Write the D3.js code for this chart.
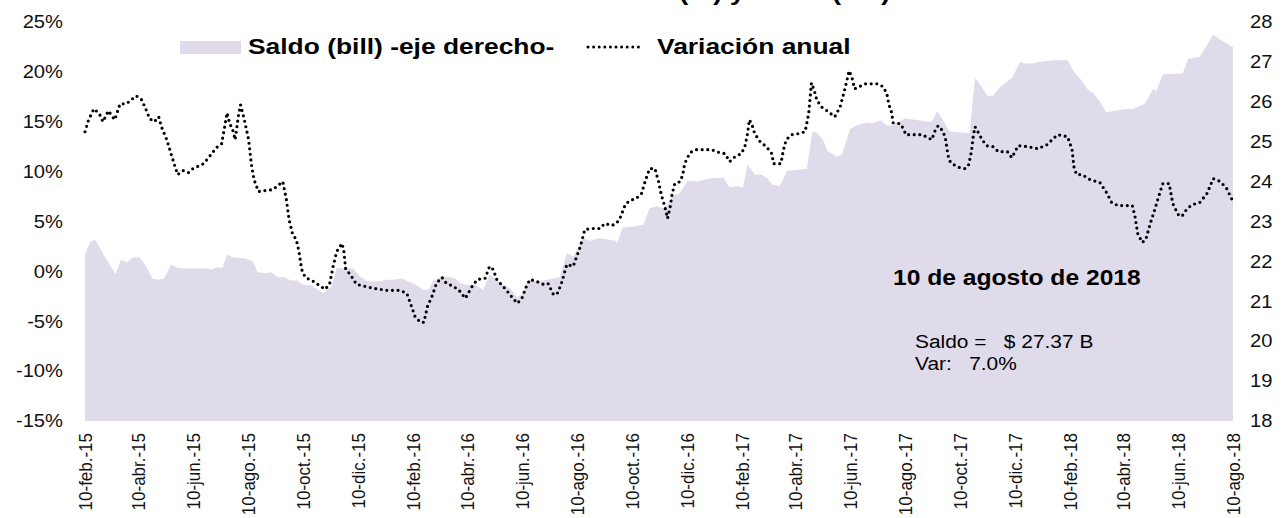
<!DOCTYPE html>
<html>
<head>
<meta charset="utf-8">
<script src="https://cdn.jsdelivr.net/npm/d3@7"></script>
<style>
  body { margin: 0; background: #fff; }
  svg { display: block; font-family: "Liberation Sans", Arial, sans-serif; }
</style>
</head>
<body>
<svg id="chart" width="1287" height="518"></svg>
<script>
// saldo semanal (billones) - eje derecho
const saldoFechas = [
  "2015-02-10","2015-02-16","2015-02-21","2015-02-27","2015-03-06","2015-03-16","2015-03-22","2015-03-29",
  "2015-04-04","2015-04-12","2015-04-19","2015-04-26","2015-05-02","2015-05-09","2015-05-17","2015-05-23",
  "2015-06-01","2015-06-26","2015-07-01","2015-07-06","2015-07-13","2015-07-18","2015-07-25","2015-08-07",
  "2015-08-16","2015-08-21","2015-08-29","2015-09-05","2015-09-13","2015-09-20","2015-09-27","2015-10-04",
  "2015-10-10","2015-10-19","2015-11-02","2015-11-11","2015-11-17","2015-11-24","2015-12-05","2015-12-13",
  "2015-12-21","2016-01-04","2016-01-12","2016-01-19","2016-01-29","2016-02-04","2016-02-14","2016-02-21",
  "2016-02-27","2016-03-03","2016-03-13","2016-03-20","2016-03-28","2016-04-02","2016-04-10","2016-04-17",
  "2016-04-22","2016-04-28","2016-05-05","2016-05-13","2016-05-20","2016-05-28","2016-06-05","2016-06-10",
  "2016-06-17","2016-06-27","2016-07-08","2016-07-22","2016-07-30","2016-08-06","2016-08-11","2016-08-17",
  "2016-08-25","2016-09-03","2016-09-14","2016-09-22","2016-09-24","2016-09-30","2016-10-10","2016-10-23",
  "2016-10-25","2016-10-30","2016-11-07","2016-11-14","2016-11-19","2016-11-25","2016-12-03","2016-12-11",
  "2016-12-22","2016-12-28","2017-01-05","2017-01-20","2017-01-27","2017-02-04","2017-02-11","2017-02-16",
  "2017-02-24","2017-03-04","2017-03-10","2017-03-16","2017-03-24","2017-04-01","2017-04-12","2017-04-23",
  "2017-04-29","2017-05-04","2017-05-11","2017-05-16","2017-05-26","2017-06-01","2017-06-10","2017-06-18",
  "2017-06-29","2017-07-05","2017-07-14","2017-07-21","2017-07-27","2017-08-10","2017-08-21","2017-09-04",
  "2017-09-09","2017-09-15","2017-09-29","2017-10-10","2017-10-21","2017-10-27","2017-11-02","2017-11-10",
  "2017-11-16","2017-11-23","2017-12-02","2017-12-08","2017-12-16","2017-12-22","2017-12-30","2018-01-05",
  "2018-01-22","2018-02-07","2018-02-13","2018-02-23","2018-03-02","2018-03-07","2018-03-15","2018-03-22",
  "2018-03-29","2018-04-12","2018-04-21","2018-05-04","2018-05-13","2018-05-17","2018-05-24","2018-06-15",
  "2018-06-21","2018-07-04","2018-07-19","2018-07-28","2018-08-10"
];
const saldoBill = [
  22.17,22.50,22.54,22.33,22.04,21.68,22.04,21.98,
  22.10,22.10,21.88,21.57,21.54,21.57,21.93,21.85,
  21.82,21.82,21.80,21.85,21.84,22.17,22.10,22.08,
  22.00,21.73,21.71,21.73,21.60,21.60,21.52,21.52,
  21.42,21.40,21.21,21.37,21.83,21.83,21.82,21.62,
  21.50,21.50,21.54,21.54,21.57,21.50,21.40,21.29,
  21.29,21.50,21.62,21.62,21.57,21.46,21.40,21.43,
  21.37,21.29,21.67,21.54,21.40,21.33,21.08,21.18,
  21.54,21.50,21.54,21.60,22.21,22.12,22.33,22.58,
  22.52,22.58,22.55,22.52,22.46,22.85,22.87,22.92,
  23.04,23.33,23.38,23.33,23.43,23.65,23.71,24.02,
  24.00,24.04,24.08,24.10,23.85,23.89,23.85,24.43,
  24.18,24.17,24.08,23.92,23.89,24.27,24.29,24.32,
  25.25,25.23,25.04,24.77,24.63,24.67,25.32,25.42,
  25.48,25.46,25.54,25.40,25.42,25.58,25.55,25.50,
  25.50,25.77,25.25,25.23,25.21,26.60,26.42,26.15,
  26.15,26.35,26.50,26.63,27.00,26.96,26.96,27.00,
  27.04,27.04,26.79,26.52,26.29,26.23,26.00,25.73,
  25.77,25.82,25.82,25.96,26.32,26.28,26.69,26.71,
  27.07,27.13,27.68,27.54,27.37
];

// variacion anual (%) - eje izquierdo
const variacionFechas = [
  "2015-02-10","2015-02-14","2015-02-20","2015-02-26","2015-03-02","2015-03-08","2015-03-15","2015-03-21",
  "2015-03-28","2015-04-08","2015-04-14","2015-04-19","2015-04-23","2015-04-28","2015-05-03","2015-05-06",
  "2015-05-12","2015-05-17","2015-05-24","2015-05-30","2015-06-05","2015-06-10","2015-06-22","2015-07-01",
  "2015-07-06","2015-07-12","2015-07-15","2015-07-18","2015-07-21","2015-07-24","2015-07-27","2015-07-31",
  "2015-08-02","2015-08-06","2015-08-11","2015-08-14","2015-08-17","2015-08-22","2015-08-29","2015-09-07",
  "2015-09-18","2015-09-22","2015-09-25","2015-09-29","2015-10-03","2015-10-06","2015-10-09","2015-10-13",
  "2015-10-22","2015-11-04","2015-11-09","2015-11-13","2015-11-17","2015-11-23","2015-11-25","2015-11-27",
  "2015-12-02","2015-12-09","2015-12-28","2016-01-12","2016-01-26","2016-02-03","2016-02-07","2016-02-12",
  "2016-02-18","2016-02-22","2016-02-26","2016-03-02","2016-03-07","2016-03-13","2016-03-18","2016-03-26",
  "2016-04-02","2016-04-08","2016-04-17","2016-04-22","2016-04-30","2016-05-05","2016-05-09","2016-05-13",
  "2016-05-22","2016-05-31","2016-06-05","2016-06-10","2016-06-15","2016-06-19","2016-06-26","2016-07-04",
  "2016-07-09","2016-07-15","2016-07-19","2016-07-24","2016-07-30","2016-08-06","2016-08-10","2016-08-14",
  "2016-08-19","2016-08-27","2016-09-05","2016-09-10","2016-09-18","2016-09-23","2016-09-27","2016-10-03",
  "2016-10-08","2016-10-15","2016-10-21","2016-10-25","2016-10-30","2016-11-05","2016-11-09","2016-11-12",
  "2016-11-16","2016-11-19","2016-11-22","2016-11-24","2016-11-27","2016-12-03","2016-12-06","2016-12-08",
  "2016-12-14","2016-12-21","2017-01-07","2017-01-16","2017-01-22","2017-01-27","2017-02-02","2017-02-09",
  "2017-02-13","2017-02-16","2017-02-18","2017-02-21","2017-02-24","2017-03-02","2017-03-09","2017-03-15",
  "2017-03-17","2017-03-25","2017-03-28","2017-03-31","2017-04-06","2017-04-13","2017-04-21","2017-04-25",
  "2017-04-27","2017-04-28","2017-05-01","2017-05-04","2017-05-09","2017-05-17","2017-05-24","2017-05-30",
  "2017-06-04","2017-06-09","2017-06-12","2017-06-15","2017-06-27","2017-07-11","2017-07-17","2017-07-21",
  "2017-07-23","2017-07-26","2017-07-28","2017-08-05","2017-08-09","2017-08-11","2017-08-29","2017-09-05",
  "2017-09-09","2017-09-12","2017-09-16","2017-09-21","2017-09-24","2017-09-26","2017-09-28","2017-10-01",
  "2017-10-10","2017-10-16","2017-10-20","2017-10-23","2017-10-25","2017-10-27","2017-10-29","2017-11-04",
  "2017-11-09","2017-11-16","2017-11-22","2017-12-02","2017-12-07","2017-12-14","2017-12-25","2018-01-05",
  "2018-01-15","2018-01-22","2018-01-27","2018-02-07","2018-02-12","2018-02-14","2018-02-17","2018-02-23",
  "2018-03-04","2018-03-15","2018-03-23","2018-03-28","2018-04-04","2018-04-20","2018-04-23","2018-04-26",
  "2018-05-01","2018-05-05","2018-05-10","2018-05-15","2018-05-21","2018-05-24","2018-05-31","2018-06-04",
  "2018-06-10","2018-06-14","2018-06-20","2018-06-26","2018-07-04","2018-07-12","2018-07-19","2018-07-27",
  "2018-08-03","2018-08-10"
];
const variacionPct = [
  14.0,15.2,16.3,15.8,15.0,16.1,15.2,16.8,
  16.8,17.6,17.2,16.2,15.3,15.0,15.5,14.5,
  13.2,11.7,9.7,10.1,9.9,10.3,10.8,11.8,
  12.4,12.8,14.3,15.9,14.8,14.3,13.2,15.8,
  16.7,15.3,13.2,10.8,9.2,8.0,8.1,8.2,
  9.0,7.2,5.2,3.7,3.2,2.0,0.2,-0.6,
  -1.0,-1.8,-1.3,0.5,2.0,2.8,2.0,0.2,
  -0.3,-1.3,-1.7,-1.9,-1.9,-2.2,-3.2,-4.5,
  -5.1,-5.1,-3.5,-2.5,-1.2,-0.6,-1.2,-1.5,
  -2.0,-2.7,-1.3,-0.8,-0.7,0.5,0.2,-0.8,
  -1.7,-2.7,-3.2,-2.7,-1.5,-0.8,-1.0,-1.3,
  -1.2,-2.3,-2.3,-1.2,0.7,0.5,1.5,2.5,
  4.2,4.3,4.3,4.8,4.6,4.8,5.3,6.7,
  7.1,7.3,7.8,9.0,10.3,10.3,9.0,7.7,
  6.5,5.3,6.5,7.7,8.8,9.0,9.7,10.8,
  11.9,12.2,12.2,11.9,11.8,11.0,11.5,11.8,
  12.5,13.8,15.2,14.7,13.8,13.0,12.5,11.8,
  10.8,10.8,12.2,13.2,13.7,13.8,14.0,15.8,
  17.8,18.9,18.2,17.2,16.5,16.0,15.5,16.5,
  18.2,20.1,19.5,18.3,18.8,18.8,18.5,17.8,
  16.8,16.0,14.9,14.8,14.2,13.7,13.7,13.4,
  13.2,14.0,14.6,14.1,13.4,12.2,11.2,10.8,
  10.4,10.3,10.7,12.0,13.5,14.5,14.2,13.2,
  12.6,12.5,12.0,12.0,11.4,12.6,12.5,12.3,
  12.7,13.3,13.7,13.5,12.2,10.5,9.7,9.7,
  9.2,8.9,7.8,6.9,6.6,6.6,5.5,3.8,
  2.9,3.2,4.8,6.2,8.0,8.8,8.8,6.8,
  5.7,5.5,6.3,6.7,6.9,7.8,9.3,9.0,
  8.3,7.0
];

const tickFechas = [
  "2015-02-10","2015-04-10","2015-06-10","2015-08-10","2015-10-10","2015-12-10",
  "2016-02-10","2016-04-10","2016-06-10","2016-08-10","2016-10-10","2016-12-10",
  "2017-02-10","2017-04-10","2017-06-10","2017-08-10","2017-10-10","2017-12-10",
  "2018-02-10","2018-04-10","2018-06-10","2018-08-10"
];
const tickEtiquetas = [
  "10-feb.-15","10-abr.-15","10-jun.-15","10-ago.-15","10-oct.-15","10-dic.-15",
  "10-feb.-16","10-abr.-16","10-jun.-16","10-ago.-16","10-oct.-16","10-dic.-16",
  "10-feb.-17","10-abr.-17","10-jun.-17","10-ago.-17","10-oct.-17","10-dic.-17",
  "10-feb.-18","10-abr.-18","10-jun.-18","10-ago.-18"
];
const ticksIzq = [-15, -10, -5, 0, 5, 10, 15, 20, 25];
const ticksDer = [18, 19, 20, 21, 22, 23, 24, 25, 26, 27, 28];

const parse = d3.timeParse("%Y-%m-%d");
const saldo = saldoFechas.map((f, i) => ({ date: parse(f), v: saldoBill[i] }));
const variacion = variacionFechas.map((f, i) => ({ date: parse(f), v: variacionPct[i] }));

const plotLeft = 85, plotRight = 1233, plotTop = 22, plotBottom = 421;
const sx = 1.12; // el texto original se ve estirado en horizontal

const svg = d3.select("#chart");
svg.append("rect").attr("width", 1287).attr("height", 518).attr("fill", "#fff");

const x = d3.scaleTime()
  .domain([parse(tickFechas[0]), parse(tickFechas[tickFechas.length - 1])])
  .range([plotLeft, plotRight]);
const yIzq = d3.scaleLinear().domain([-15, 25]).range([plotBottom, plotTop]);
const yDer = d3.scaleLinear().domain([18, 28]).range([plotBottom, plotTop]);

// area del saldo
svg.append("path")
  .datum(saldo)
  .attr("fill", "#e0dbea")
  .attr("d", d3.area()
    .x(d => x(d.date))
    .y0(yDer(18))
    .y1(d => yDer(d.v)));

// linea punteada de la variacion
svg.append("path")
  .datum(variacion)
  .attr("fill", "none")
  .attr("stroke", "#000")
  .attr("stroke-width", 3.2)
  .attr("stroke-linecap", "round")
  .attr("stroke-dasharray", "0 5.6")
  .attr("d", d3.line()
    .x(d => x(d.date))
    .y(d => yIzq(d.v)));

// ejes
const gIzq = svg.append("g")
  .attr("transform", `translate(${plotLeft},0)`)
  .call(d3.axisLeft(yIzq).tickValues(ticksIzq).tickFormat(d => d + "%").tickSize(0));
gIzq.select(".domain").remove();
gIzq.selectAll("text")
  .attr("x", -22 / sx)
  .attr("transform", `scale(${sx},1)`)
  .attr("font-size", 18).attr("font-family", null).attr("fill", "#111");

const gDer = svg.append("g")
  .attr("transform", `translate(${plotRight},0)`)
  .call(d3.axisRight(yDer).tickValues(ticksDer).tickSize(0));
gDer.select(".domain").remove();
gDer.selectAll("text")
  .attr("x", 17 / sx)
  .attr("transform", `scale(${sx},1)`)
  .attr("font-size", 18).attr("font-family", null).attr("fill", "#111");

const gX = svg.append("g")
  .attr("transform", `translate(0,${plotBottom})`)
  .call(d3.axisBottom(x)
    .tickValues(tickFechas.map(parse))
    .tickFormat((d, i) => tickEtiquetas[i])
    .tickSize(0));
gX.select(".domain").remove();
gX.selectAll("text")
  .attr("transform", `scale(${sx},1) rotate(-90)`)
  .attr("x", -12).attr("y", 0).attr("dy", "0.35em")
  .style("text-anchor", "end")
  .attr("font-size", 17).attr("font-family", null).attr("fill", "#111");

function texto(px, py, str, size, weight, stretch) {
  return svg.append("text")
    .attr("transform", `translate(${px},${py}) scale(${stretch},1)`)
    .attr("font-size", size)
    .attr("font-weight", weight)
    .attr("fill", "#000")
    .style("white-space", "pre")
    .text(str);
}

// titulo (cortado en la parte superior, solo asoman los descendentes)
texto(470, -0.5, "Variación anual (%) y saldo (bill)", 22, "bold", 1.25);

// leyenda
svg.append("rect").attr("x", 180).attr("y", 41).attr("width", 61).attr("height", 13).attr("fill", "#e0dbea");
texto(248, 54, "Saldo (bill) -eje derecho-", 22, "bold", 1.2);
svg.append("line")
  .attr("x1", 588).attr("x2", 642).attr("y1", 47).attr("y2", 47)
  .attr("stroke", "#000").attr("stroke-width", 3).attr("stroke-linecap", "round")
  .attr("stroke-dasharray", "0 5.6");
texto(657, 54, "Variación anual", 22, "bold", 1.2);

// anotacion del ultimo dato
texto(893, yDer(21.6) + 8, "10 de agosto de 2018", 22, "bold", 1.12);
texto(915, yDer(20) + 7, "Saldo =   $ 27.37 B", 19, "normal", 1.1);
texto(915, yDer(19.45) + 7, "Var:   7.0%", 19, "normal", 1.1);
</script>
</body>
</html>
